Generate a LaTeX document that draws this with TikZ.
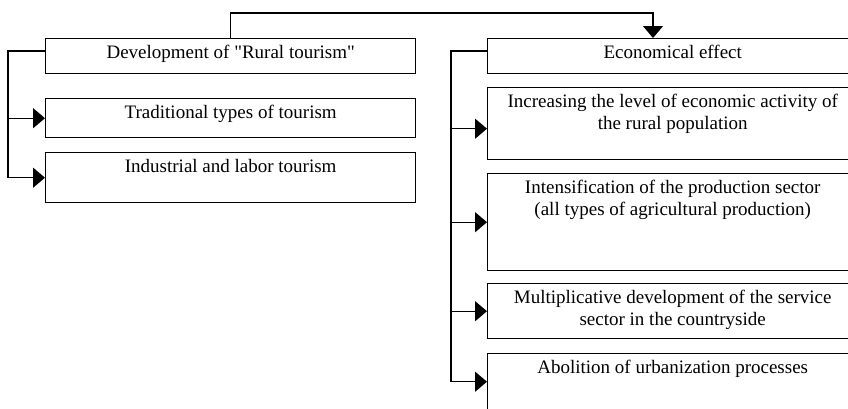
\documentclass[tikz,border=0pt]{standalone}
\usepackage{fontspec}
\setmainfont{Liberation Serif}[Ligatures=TeXOff]
\usetikzlibrary{positioning,calc,arrows.meta}

\tikzset{
  box/.style={draw, line width=1.4pt, anchor=north west, minimum width=370pt, inner sep=0pt},
  txt/.style={anchor=north, align=center, inner sep=0pt, yshift=-7pt, font=\fontsize{19}{22}\selectfont},
  conn/.style={line width=1.4pt},
  arr/.style={conn, -{Triangle[length=12pt,width=20pt]}}
}

\begin{document}
\begin{tikzpicture}[x=1pt,y=-1pt]
    \useasboundingbox (0,0) rectangle (848,408);
    \clip (0,0) rectangle (848,408);

    % Left column
    \node[box, minimum height=35pt] (dev) at (45,38) {};
    \node[txt] (devt) at (dev.north) {Development of "Rural tourism"};
    \node[box, minimum height=39pt] (trad) at (45,98) {};
    \node[txt] (tradt) at (trad.north) {Traditional types of tourism};
    \node[box, minimum height=50pt] (ind) at (45,152) {};
    \node[txt] (indt) at (ind.north) {Industrial and labor tourism};

    % Right column
    \node[box, minimum height=35pt] (eco) at (487,38) {};
    \node[txt] (ecot) at (eco.north) {Economical effect};
    \node[box, minimum height=72pt] (act) at (487,87) {};
    \node[txt] (actt) at (act.north) {Increasing the level of economic activity of\\the rural population};
    \node[box, minimum height=97pt] (prod) at (487,173) {};
    \node[txt] (prodt) at (prod.north) {Intensification of the production sector\\(all types of agricultural production)};
    \node[box, minimum height=55pt] (serv) at (487,283) {};
    \node[txt] (servt) at (serv.north) {Multiplicative development of the service\\sector in the countryside};
    \node[box, minimum height=56pt] (urb) at (487,353) {};
    \node[txt] (urbt) at (urb.north) {Abolition of urbanization processes};

    % Top link
    \coordinate (top) at (653,13);
    \draw[arr] (dev.north) |- (top) -- (top |- eco.north);

    % Left branch
    \coordinate (lbus) at (8,51);
    \draw[conn] ($(dev.north west)+(0,13)$) -- (lbus) -- (lbus |- ind.west);
    \foreach \n in {trad,ind}
        \draw[arr] (lbus |- \n.west) -- (\n.west);

    % Right branch
    \coordinate (rbus) at (451,51);
    \coordinate (actin) at ([yshift=-5pt]act.west);
    \draw[conn] ($(eco.north west)+(0,13)$) -- (rbus) -- (rbus |- urb.west);
    \draw[arr] (rbus |- actin) -- (actin);
    \foreach \n in {prod,serv,urb}
        \draw[arr] (rbus |- \n.west) -- (\n.west);
\end{tikzpicture}
\end{document}
